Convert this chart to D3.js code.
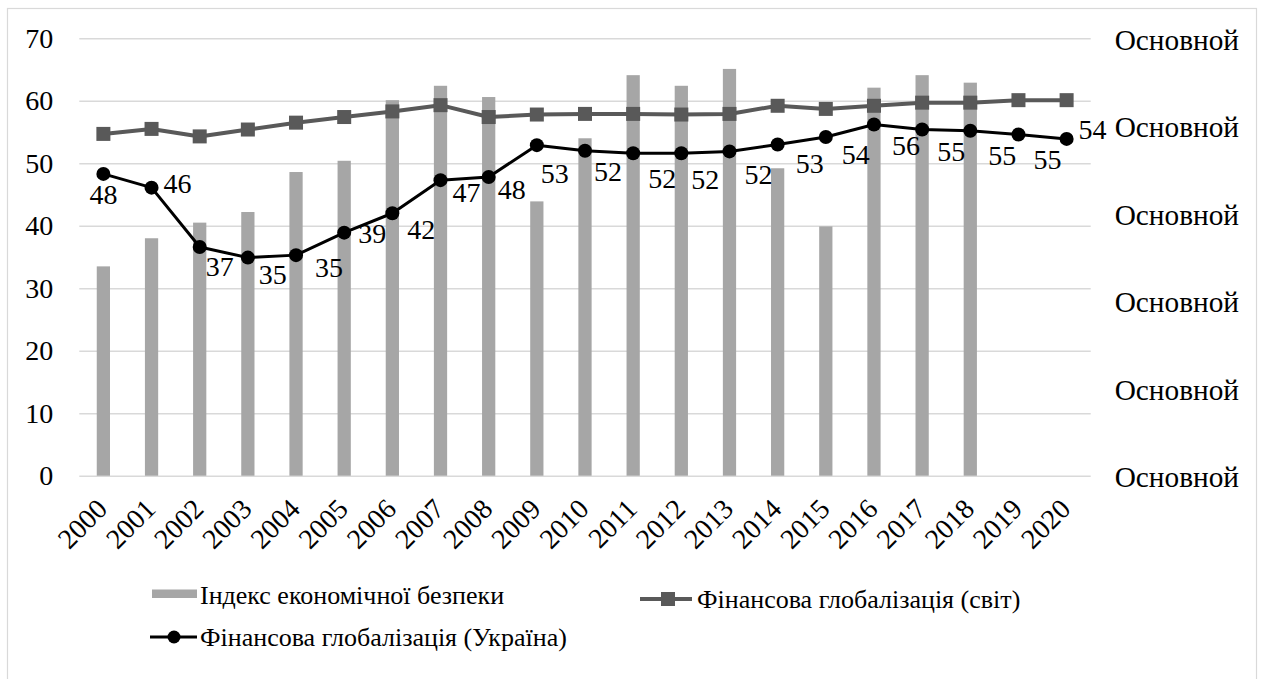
<!DOCTYPE html>
<html>
<head>
<meta charset="utf-8">
<script src="https://cdn.jsdelivr.net/npm/d3@7"></script>
<style>
  html, body { margin: 0; padding: 0; background: #fff; }
  svg { display: block; }
</style>
</head>
<body>
<svg id="chart" width="1261" height="679"></svg>
<script>
// ---- data ----
const years = ["2000","2001","2002","2003","2004","2005","2006","2007","2008","2009","2010",
               "2011","2012","2013","2014","2015","2016","2017","2018","2019","2020"];
const econSecurityIndex = [33.5, 38.0, 40.5, 42.2, 48.6, 50.4, 60.1, 62.4, 60.6, 43.9, 54.0,
                           64.1, 62.4, 65.1, 49.2, 39.9, 62.1, 64.1, 62.9, null, null];
const finGlobWorld = [54.7, 55.5, 54.3, 55.4, 56.5, 57.4, 58.3, 59.3, 57.4, 57.8, 57.9,
                      57.9, 57.8, 57.9, 59.2, 58.7, 59.2, 59.7, 59.7, 60.1, 60.1];
const finGlobUkraine = [48.3, 46.1, 36.6, 34.9, 35.3, 38.9, 42.0, 47.3, 47.8, 52.9, 52.0,
                        51.6, 51.6, 51.9, 53.0, 54.2, 56.2, 55.4, 55.2, 54.6, 53.9];
const leftTicks = [0, 10, 20, 30, 40, 50, 60, 70];
const rightTicks = [0, 1, 2, 3, 4, 5];
const rightTickLabel = "Основной";
const seriesNames = ["Індекс економічної безпеки", "Фінансова глобалізація (світ)", "Фінансова глобалізація (Україна)"];

// ---- layout (not data) ----
const labelOffsets = [[0,20],[26,-4],[20,19],[25,17],[33,12],[28,1],[29,16],[26,12],[23,12],[18,28],[23,20],
                      [29,25],[24,26],[29,23],[32,19],[30,17],[32,21],[29,22],[32,24],[29,25],[26,-10]];
const FS = 28;
const FONT = "Liberation Serif";
const svg = d3.select("#chart");
const plot = {left: 79.3, right: 1090.7, top: 38.3, bottom: 475.7};
const styleText = (sel, fs = FS) => sel.attr("font-family", null).style("font-family", FONT).style("font-size", fs + "px").style("fill", "#000");

// outer border
svg.append("rect").attr("x", 7.5).attr("y", 8.5).attr("width", 1249).attr("height", 700)
  .attr("fill", "#fff").attr("stroke", "#d9d9d9").attr("stroke-width", 1.2);

const x = d3.scaleBand().domain(years).range([plot.left, plot.right]).paddingInner(0.725).paddingOuter(0.3625);
const xc = d3.scalePoint().domain(years).range([plot.left, plot.right]).padding(0.5);
const y = d3.scaleLinear().domain([0, 70]).range([plot.bottom, plot.top]);
const yR = d3.scaleLinear().domain([0, 5]).range([plot.bottom + 1.5, plot.top + 1.5]);

// grid
svg.append("g")
  .attr("transform", `translate(${plot.left},0)`)
  .call(d3.axisLeft(y).tickValues(leftTicks).tickSize(-(plot.right - plot.left)).tickFormat(""))
  .call(g => g.select(".domain").remove())
  .call(g => g.selectAll("line").attr("stroke", "#d9d9d9").attr("stroke-width", 1.5));

// left axis
svg.append("g")
  .attr("transform", `translate(${plot.left},0)`)
  .call(d3.axisLeft(y).tickValues(leftTicks).tickSize(0).tickPadding(26))
  .call(g => g.select(".domain").remove())
  .call(g => styleText(g.selectAll("text")));

// right axis
svg.append("g")
  .attr("transform", `translate(${plot.right},0)`)
  .call(d3.axisRight(yR).tickValues(rightTicks).tickSize(0).tickPadding(24).tickFormat(() => rightTickLabel))
  .call(g => g.select(".domain").remove())
  .call(g => styleText(g.selectAll("text"), 29.3));

// bottom axis
svg.append("g")
  .attr("transform", `translate(0,${plot.bottom})`)
  .call(d3.axisBottom(xc).tickSize(0).tickPadding(0))
  .call(g => g.select(".domain").remove())
  .call(g => styleText(g.selectAll("text"))
      .attr("text-anchor", "end").attr("dy", null).attr("y", 0)
      .attr("transform", "translate(5,35) rotate(-45)"));

// bars
svg.append("g").selectAll("rect")
  .data(years.map((d, i) => ({year: d, v: econSecurityIndex[i]})).filter(d => d.v != null))
  .join("rect")
  .attr("x", d => x(d.year)).attr("width", x.bandwidth())
  .attr("y", d => y(d.v)).attr("height", d => y(0) - y(d.v))
  .attr("fill", "#a6a6a6");

// world line
const line = d3.line().x((d, i) => xc(years[i])).y(d => y(d));
svg.append("path").datum(finGlobWorld).attr("d", line)
  .attr("fill", "none").attr("stroke", "#595959").attr("stroke-width", 4).attr("stroke-linejoin", "round");
svg.append("g").selectAll("rect").data(finGlobWorld).join("rect")
  .attr("x", (d, i) => xc(years[i]) - 7).attr("y", d => y(d) - 7)
  .attr("width", 14).attr("height", 14).attr("fill", "#595959");

// ukraine line
svg.append("path").datum(finGlobUkraine).attr("d", line)
  .attr("fill", "none").attr("stroke", "#000").attr("stroke-width", 3).attr("stroke-linejoin", "round");
svg.append("g").selectAll("circle").data(finGlobUkraine).join("circle")
  .attr("cx", (d, i) => xc(years[i])).attr("cy", d => y(d)).attr("r", 7).attr("fill", "#000");

// data labels
const fmt = d3.format(".0f");
styleText(svg.append("g").selectAll("text").data(finGlobUkraine).join("text")
  .attr("x", (d, i) => xc(years[i]) + labelOffsets[i][0])
  .attr("y", (d, i) => y(d) + labelOffsets[i][1])
  .attr("dy", "0.35em").attr("text-anchor", "middle")
  .text(d => fmt(d)));

// legend
const LFS = 26;
const lg = svg.append("g");
lg.append("rect").attr("x", 152).attr("y", 589.5).attr("width", 45).attr("height", 8.5).attr("fill", "#a6a6a6");
styleText(lg.append("text").attr("x", 200).attr("y", 595).attr("dy", "0.35em").text(seriesNames[0]), LFS);

lg.append("line").attr("x1", 640).attr("x2", 692).attr("y1", 599).attr("y2", 599).attr("stroke", "#595959").attr("stroke-width", 4);
lg.append("rect").attr("x", 661).attr("y", 592).attr("width", 14).attr("height", 14).attr("fill", "#595959");
styleText(lg.append("text").attr("x", 697).attr("y", 599).attr("dy", "0.35em").text(seriesNames[1]), LFS);

lg.append("line").attr("x1", 150).attr("x2", 197).attr("y1", 637).attr("y2", 637).attr("stroke", "#000").attr("stroke-width", 3);
lg.append("circle").attr("cx", 174).attr("cy", 637).attr("r", 6.5).attr("fill", "#000");
styleText(lg.append("text").attr("x", 200).attr("y", 637).attr("dy", "0.35em").text(seriesNames[2]), LFS);
</script>
</body>
</html>
